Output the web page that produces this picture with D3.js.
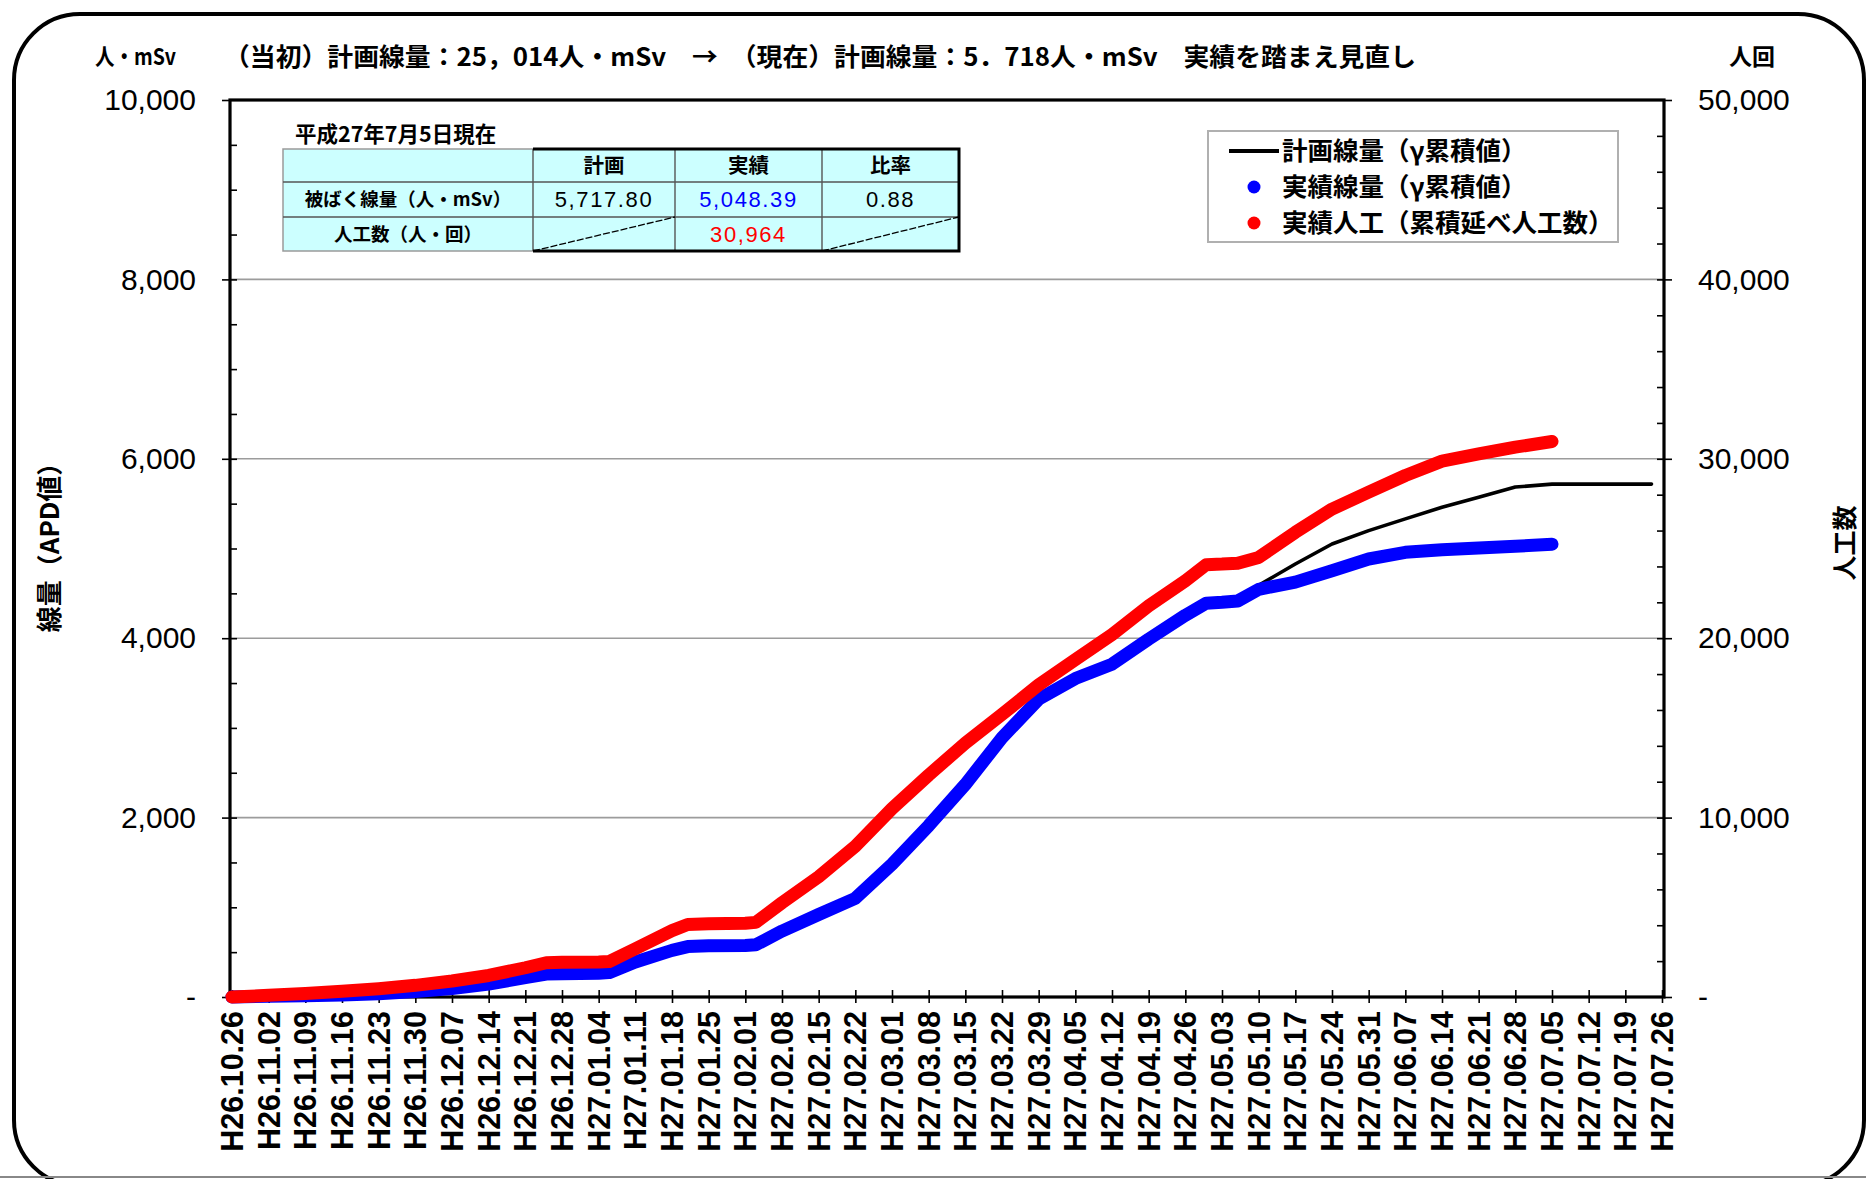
<!DOCTYPE html>
<html>
<head>
<meta charset="utf-8">
<script src="https://cdn.jsdelivr.net/npm/d3@7"></script>
<style>
  html, body { margin: 0; padding: 0; background: #fff; }
  svg { display: block; }
  .cjk { font-family: "Noto Sans CJK JP", "Noto Sans", sans-serif; }
  .num { font-family: "Liberation Sans", Arial, sans-serif; }
</style>
</head>
<body>
<svg id="chart" width="1866" height="1179"></svg>
<script>
// Weekly category labels along the bottom axis (Heisei era dates)
const xLabels = [
  "H26.10.26","H26.11.02","H26.11.09","H26.11.16","H26.11.23","H26.11.30",
  "H26.12.07","H26.12.14","H26.12.21","H26.12.28","H27.01.04","H27.01.11",
  "H27.01.18","H27.01.25","H27.02.01","H27.02.08","H27.02.15","H27.02.22",
  "H27.03.01","H27.03.08","H27.03.15","H27.03.22","H27.03.29","H27.04.05",
  "H27.04.12","H27.04.19","H27.04.26","H27.05.03","H27.05.10","H27.05.17",
  "H27.05.24","H27.05.31","H27.06.07","H27.06.14","H27.06.21","H27.06.28",
  "H27.07.05","H27.07.12","H27.07.19","H27.07.26"
];

// Dates of the recorded (actual) values
const actualDates = [
  "H26.10.26","H26.11.02","H26.11.09","H26.11.16","H26.11.23","H26.11.30",
  "H26.12.07","H26.12.14","H26.12.21","H26.12.25","H26.12.28","H27.01.04",
  "H27.01.06","H27.01.11","H27.01.18","H27.01.21","H27.01.25","H27.02.01",
  "H27.02.03","H27.02.08","H27.02.15","H27.02.22","H27.03.01","H27.03.08",
  "H27.03.15","H27.03.22","H27.03.29","H27.04.05","H27.04.12","H27.04.19",
  "H27.04.26","H27.04.30","H27.05.03","H27.05.06","H27.05.10","H27.05.17",
  "H27.05.24","H27.05.31","H27.06.07","H27.06.14","H27.06.21","H27.06.28",
  "H27.07.05"
];

// 実績線量 (γ累積値), 人・mSv — left axis
const doseActual = [
  0, 8, 14, 22, 35, 60,
  95, 145, 215, 255, 260, 266,
  272, 390, 520, 562, 570, 574,
  582, 735, 920, 1100, 1480, 1910,
  2370, 2890, 3320, 3550, 3710, 3990,
  4255, 4390, 4400, 4415, 4545, 4625,
  4752, 4883, 4957, 4987, 5006, 5024,
  5048.39
];

// 実績人工 (累積延べ人工数), 人・回 — right axis
const workersActual = [
  0, 95, 190, 320, 465, 650,
  890, 1200, 1630, 1910, 1940, 1950,
  1975, 2690, 3700, 4040, 4080, 4110,
  4160, 5250, 6700, 8400, 10500, 12370,
  14150, 15750, 17400, 18800, 20200, 21800,
  23200, 24100, 24130, 24180, 24500, 25900,
  27200, 28140, 29070, 29870, 30280, 30650,
  30964
];

// 計画線量 (γ累積値), 人・mSv — left axis
const planDates = [
  "H26.10.26","H26.11.02","H26.11.09","H26.11.16","H26.11.23","H26.11.30",
  "H26.12.07","H26.12.14","H26.12.21","H26.12.25","H26.12.28","H27.01.04",
  "H27.01.06","H27.01.11","H27.01.18","H27.01.21","H27.01.25","H27.02.01",
  "H27.02.03","H27.02.08","H27.02.15","H27.02.22","H27.03.01","H27.03.08",
  "H27.03.15","H27.03.22","H27.03.29","H27.04.05","H27.04.12","H27.04.19",
  "H27.04.26","H27.04.30","H27.05.03","H27.05.06","H27.05.10","H27.05.17",
  "H27.05.24","H27.05.31","H27.06.07","H27.06.14","H27.06.21","H27.06.28",
  "H27.07.05","H27.07.24"
];
const dosePlan = [
  0, 8, 14, 22, 35, 60,
  95, 145, 215, 255, 260, 266,
  272, 390, 520, 562, 570, 574,
  582, 735, 920, 1100, 1480, 1910,
  2370, 2890, 3320, 3550, 3710, 3990,
  4255, 4390, 4400, 4415, 4590, 4827,
  5050, 5199, 5330, 5460, 5572, 5685,
  5717.80, 5717.80
];

// Axis ticks
const leftTicks = [0, 2000, 4000, 6000, 8000, 10000];
const rightTicks = [0, 10000, 20000, 30000, 40000, 50000];

// Text
const unitLeft = "人・mSv";
const unitRight = "人回";
const titleText = "（当初）計画線量：25，014人・mSv　→　（現在）計画線量：5．718人・mSv　実績を踏まえ見直し";
const leftAxisTitle = "線量（APD値）";
const rightAxisTitle = "人工数";
const tableCaption = "平成27年7月5日現在";
const tableHeader = ["", "計画", "実績", "比率"];
const tableRowNames = ["被ばく線量（人・mSv）", "人工数（人・回）"];
const legendNames = ["計画線量（γ累積値）", "実績線量（γ累積値）", "実績人工（累積延べ人工数）"];

// ---------------------------------------------------------------------------
const parseH = s => {
  const [era, m, d] = s.slice(1).split(".").map(Number);
  return new Date(Date.UTC(1988 + era, m - 1, d));
};

const svg = d3.select("#chart");
const plot = { left: 230, right: 1664, top: 100, bottom: 997 };

const x = d3.scaleUtc()
  .domain([parseH(xLabels[0]), parseH(xLabels[xLabels.length - 1])])
  .range([plot.left + 2, plot.right - 2]);
const yL = d3.scaleLinear().domain([0, 10000]).range([plot.bottom, plot.top]);
const yR = d3.scaleLinear().domain([0, 50000]).range([plot.bottom, plot.top]);

// outer rounded frame
svg.append("rect")
  .attr("x", 14).attr("y", 14)
  .attr("width", 1850).attr("height", 1172)
  .attr("rx", 66).attr("ry", 66)
  .attr("fill", "none").attr("stroke", "#000").attr("stroke-width", 4);
svg.append("line")
  .attr("x1", 0).attr("x2", 1866).attr("y1", 1177).attr("y2", 1177)
  .attr("stroke", "#888").attr("stroke-width", 2);

// gridlines
svg.append("g").selectAll("line")
  .data(leftTicks.filter(v => v > 0 && v < 10000))
  .join("line")
  .attr("x1", plot.left).attr("x2", plot.right)
  .attr("y1", d => yL(d)).attr("y2", d => yL(d))
  .attr("stroke", "#9c9c9c").attr("stroke-width", 1.6);

// axes
const fmt = d3.format(",");
const styleAxis = g => {
  g.select(".domain").remove();
  g.selectAll("line").attr("stroke", "#000").attr("stroke-width", 1.6);
  g.selectAll("text")
    .attr("class", "num").attr("font-size", 30).attr("fill", "#000");
};

svg.append("g").attr("transform", `translate(${plot.left},0)`)
  .call(d3.axisLeft(yL).tickValues(leftTicks).tickSize(8).tickPadding(26)
    .tickFormat(v => v === 0 ? "-" : fmt(v)))
  .call(styleAxis);
svg.append("g").attr("transform", `translate(${plot.left},0)`)
  .call(d3.axisLeft(yL).tickValues(d3.range(500, 10000, 500)).tickSize(-7).tickFormat(""))
  .call(styleAxis);
svg.append("g").attr("transform", `translate(${plot.right},0)`)
  .call(d3.axisRight(yR).tickValues(rightTicks).tickSize(8).tickPadding(26)
    .tickFormat(v => v === 0 ? "-" : fmt(v)))
  .call(styleAxis);
svg.append("g").attr("transform", `translate(${plot.right},0)`)
  .call(d3.axisRight(yR).tickValues(d3.range(2000, 50000, 2000)).tickSize(-7).tickFormat(""))
  .call(styleAxis);

// bottom axis ticks (crossing the axis line)
svg.append("g").attr("transform", `translate(0,${plot.bottom})`)
  .call(d3.axisBottom(x).tickValues(xLabels.map(parseH)).tickSize(6).tickFormat(""))
  .call(styleAxis);
svg.append("g").attr("transform", `translate(0,${plot.bottom})`)
  .call(d3.axisTop(x).tickValues(xLabels.map(parseH)).tickSize(7).tickFormat(""))
  .call(styleAxis);

// bottom axis labels, rotated
svg.append("g").selectAll("text")
  .data(xLabels)
  .join("text")
  .attr("class", "num")
  .attr("transform", d => `translate(${x(parseH(d))},${plot.bottom + 14}) rotate(-90)`)
  .attr("text-anchor", "end")
  .attr("dy", "0.36em")
  .attr("font-size", 30.5).attr("font-weight", "bold")
  .text(d => d);

// plot frame
svg.append("rect")
  .attr("x", plot.left).attr("y", plot.top)
  .attr("width", plot.right - plot.left).attr("height", plot.bottom - plot.top)
  .attr("fill", "none").attr("stroke", "#000").attr("stroke-width", 3.2);

// series
const planData = planDates.map((d, i) => ({ date: parseH(d), v: dosePlan[i] }));
const doseData = actualDates.map((d, i) => ({ date: parseH(d), v: doseActual[i] }));
const workData = actualDates.map((d, i) => ({ date: parseH(d), v: workersActual[i] }));

const lineL = d3.line().x(d => x(d.date)).y(d => yL(d.v));
const lineR = d3.line().x(d => x(d.date)).y(d => yR(d.v));

svg.append("path").datum(planData).attr("d", lineL)
  .attr("fill", "none").attr("stroke", "#000").attr("stroke-width", 3.6)
  .attr("stroke-linejoin", "round").attr("stroke-linecap", "round");
svg.append("path").datum(doseData).attr("d", lineL)
  .attr("fill", "none").attr("stroke", "#0000ff").attr("stroke-width", 13)
  .attr("stroke-linejoin", "round").attr("stroke-linecap", "round");
svg.append("path").datum(workData).attr("d", lineR)
  .attr("fill", "none").attr("stroke", "#ff0000").attr("stroke-width", 13)
  .attr("stroke-linejoin", "round").attr("stroke-linecap", "round");

// header texts
svg.append("text").attr("class", "cjk")
  .attr("x", 95).attr("y", 57).attr("dy", "0.36em")
  .attr("font-size", 23).attr("font-weight", "bold")
  .attr("textLength", 81).attr("lengthAdjust", "spacingAndGlyphs")
  .text(unitLeft);
svg.append("text").attr("class", "cjk")
  .attr("x", 224).attr("y", 57).attr("dy", "0.36em")
  .attr("font-size", 25).attr("font-weight", "bold")
  .attr("textLength", 1192).attr("lengthAdjust", "spacingAndGlyphs")
  .text(titleText);
svg.append("text").attr("class", "cjk")
  .attr("x", 1729).attr("y", 57).attr("dy", "0.36em")
  .attr("font-size", 23).attr("font-weight", "bold")
  .text(unitRight);

// axis titles
svg.append("text").attr("class", "cjk")
  .attr("transform", "translate(50,541) rotate(-90)")
  .attr("text-anchor", "middle").attr("dy", "0.36em")
  .attr("font-size", 26).attr("font-weight", "bold")
  .text(leftAxisTitle);
svg.append("text").attr("class", "cjk")
  .attr("transform", "translate(1845,543) rotate(-90)")
  .attr("text-anchor", "middle").attr("dy", "0.36em")
  .attr("font-size", 25).attr("font-weight", "bold")
  .text(rightAxisTitle);

// summary table
const planTotal = dosePlan[dosePlan.length - 1];
const doseTotal = doseActual[doseActual.length - 1];
const workTotal = workersActual[workersActual.length - 1];
const cols = [283, 533, 675, 822, 959];
const rows = [149, 182, 217, 251];
const tbl = svg.append("g");

tbl.append("text").attr("class", "cjk")
  .attr("x", 295).attr("y", 134).attr("dy", "0.36em")
  .attr("font-size", 21.5).attr("font-weight", "bold")
  .text(tableCaption);

tbl.append("rect")
  .attr("x", cols[0]).attr("y", rows[0])
  .attr("width", cols[4] - cols[0]).attr("height", rows[3] - rows[0])
  .attr("fill", "#ccffff").attr("stroke", "#9a9a9a").attr("stroke-width", 1.5);
cols.slice(1, 4).forEach(c => tbl.append("line")
  .attr("x1", c).attr("x2", c).attr("y1", rows[0]).attr("y2", rows[3])
  .attr("stroke", "#555").attr("stroke-width", 1.4));
rows.slice(1, 3).forEach(r => tbl.append("line")
  .attr("x1", cols[0]).attr("x2", cols[4]).attr("y1", r).attr("y2", r)
  .attr("stroke", "#555").attr("stroke-width", 1.4));
// heavy outline around the value block
tbl.append("path")
  .attr("d", `M${cols[1]},${rows[0]}H${cols[4]}V${rows[3]}H${cols[1]}`)
  .attr("fill", "none").attr("stroke", "#000").attr("stroke-width", 3);
// diagonal strikes in the empty cells
[[1, 2], [3, 4]].forEach(([a, b]) => tbl.append("line")
  .attr("x1", cols[a]).attr("y1", rows[3]).attr("x2", cols[b]).attr("y2", rows[2])
  .attr("stroke", "#000").attr("stroke-width", 1.3).attr("stroke-dasharray", "7,2"));

const cellText = (ci, ri, txt, color, bold, cjk, size) => tbl.append("text")
  .attr("class", cjk ? "cjk" : "num")
  .attr("x", (cols[ci] + cols[ci + 1]) / 2)
  .attr("y", (rows[ri] + rows[ri + 1]) / 2)
  .attr("dy", "0.36em").attr("text-anchor", "middle")
  .attr("font-size", size).attr("font-weight", bold ? "bold" : "normal")
  .attr("letter-spacing", cjk ? 0 : 1.6)
  .attr("fill", color).text(txt);

tableHeader.forEach((h, i) => { if (h) cellText(i, 0, h, "#000", true, true, 20.5); });
cellText(0, 1, tableRowNames[0], "#000", true, true, 18.5);
cellText(0, 2, tableRowNames[1], "#000", true, true, 18.5);
cellText(1, 1, d3.format(",.2f")(planTotal), "#000", false, false, 22);
cellText(2, 1, d3.format(",.2f")(doseTotal), "#0000ff", false, false, 22);
cellText(3, 1, d3.format(".2f")(doseTotal / planTotal), "#000", false, false, 22);
cellText(2, 2, d3.format(",")(workTotal), "#ff0000", false, false, 22);

// legend
const lg = svg.append("g");
lg.append("rect")
  .attr("x", 1208).attr("y", 131).attr("width", 410).attr("height", 111)
  .attr("fill", "#fff").attr("stroke", "#b0b0b0").attr("stroke-width", 2);
const legendRows = [151, 187, 223];
lg.append("line")
  .attr("x1", 1229).attr("x2", 1279).attr("y1", legendRows[0]).attr("y2", legendRows[0])
  .attr("stroke", "#000").attr("stroke-width", 4);
lg.append("circle").attr("cx", 1254).attr("cy", legendRows[1]).attr("r", 6.5).attr("fill", "#0000ff");
lg.append("circle").attr("cx", 1254).attr("cy", legendRows[2]).attr("r", 6.5).attr("fill", "#ff0000");
lg.selectAll("text.lgtext")
  .data(legendNames)
  .join("text")
  .attr("class", "cjk lgtext")
  .attr("x", 1282).attr("y", (d, i) => legendRows[i]).attr("dy", "0.36em")
  .attr("font-size", 25.5).attr("font-weight", "bold")
  .text(d => d);
</script>
</body>
</html>
